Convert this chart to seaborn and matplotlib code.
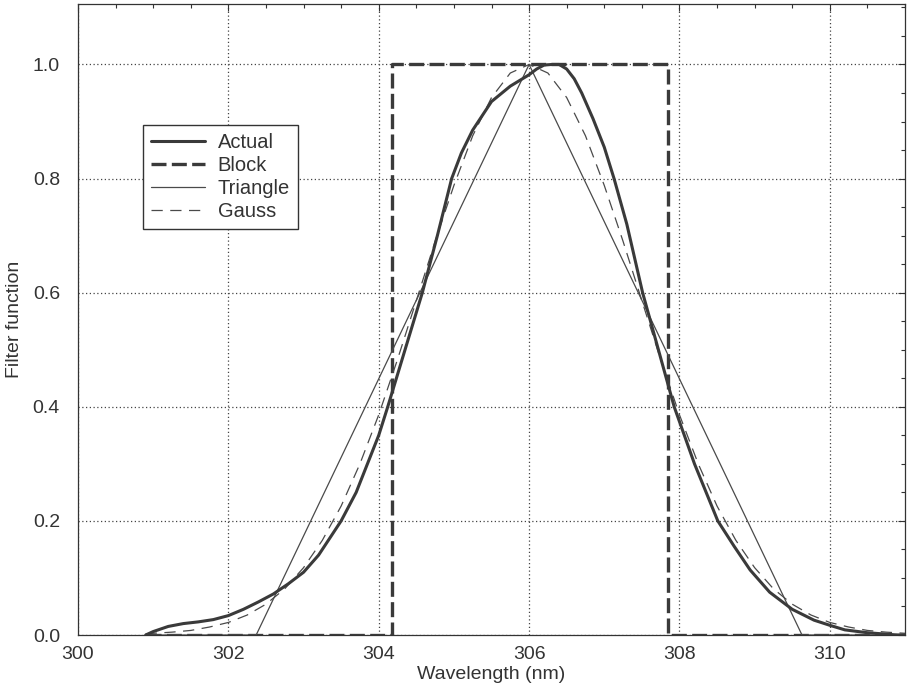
import matplotlib
matplotlib.use("Agg")
import matplotlib.pyplot as plt
from matplotlib.ticker import MultipleLocator, FixedLocator
import seaborn as sns

# ---- data ----
wl_actual = [300.9, 301.0, 301.2, 301.4, 301.6, 301.8, 302.0, 302.2, 302.4, 302.6,
             302.8, 303.0, 303.2, 303.4, 303.5, 303.7, 303.85, 304.0, 304.12, 304.35,
             304.58, 304.78, 304.97, 305.1, 305.25, 305.5, 305.75, 306.0, 306.1, 306.2,
             306.3, 306.4, 306.5, 306.6, 306.7, 306.85, 307.0, 307.13, 307.3, 307.51,
             307.72, 307.93, 308.2, 308.51, 308.73, 308.94, 309.2, 309.5, 309.79, 310.0,
             310.2, 310.5, 310.9, 311.0]
ff_actual = [0.0, 0.006, 0.015, 0.02, 0.023, 0.027, 0.034, 0.045, 0.058, 0.072,
             0.09, 0.11, 0.14, 0.18, 0.20, 0.25, 0.30, 0.35, 0.40, 0.50,
             0.60, 0.70, 0.80, 0.845, 0.885, 0.935, 0.962, 0.982, 0.992, 0.999,
             1.0, 1.0, 0.992, 0.975, 0.95, 0.905, 0.855, 0.80, 0.72, 0.60,
             0.50, 0.40, 0.30, 0.20, 0.155, 0.114, 0.075, 0.045, 0.026, 0.017,
             0.009, 0.004, 0.0, 0.0]

wl_block = [300.9, 304.18, 304.18, 307.85, 307.85, 311.0]
ff_block = [0.0, 0.0, 1.0, 1.0, 0.0, 0.0]

wl_triangle = [300.9, 302.37, 306.0, 309.63, 311.0]
ff_triangle = [0.0, 0.0, 1.0, 0.0, 0.0]

wl_gauss = [300.9, 301.0, 301.25, 301.5, 301.75, 302.0, 302.25, 302.5, 302.75, 303.0,
            303.25, 303.5, 303.75, 304.0, 304.25, 304.5, 304.75, 305.0, 305.25, 305.5,
            305.75, 306.0, 306.25, 306.5, 306.75, 307.0, 307.25, 307.5, 307.75, 308.0,
            308.25, 308.5, 308.75, 309.0, 309.25, 309.5, 309.75, 310.0, 310.25, 310.5,
            310.75, 311.0]
ff_gauss = [0.002, 0.003, 0.005, 0.008, 0.014, 0.022, 0.035, 0.054, 0.081, 0.118,
            0.166, 0.226, 0.300, 0.386, 0.483, 0.586, 0.690, 0.788, 0.875, 0.942,
            0.985, 1.0, 0.985, 0.942, 0.875, 0.788, 0.690, 0.586, 0.483, 0.386,
            0.300, 0.226, 0.166, 0.118, 0.081, 0.054, 0.035, 0.022, 0.014, 0.008,
            0.005, 0.003]

x_ticks = [300, 302, 304, 306, 308, 310]
y_ticks = [0.0, 0.2, 0.4, 0.6, 0.8, 1.0]
y_ticklabels = ["0.0", "0.2", "0.4", "0.6", "0.8", "1.0"]
legend_labels = ["Actual", "Block", "Triangle", "Gauss"]

# ---- style ----
sns.set_style("white")
plt.rcParams["font.family"] = ["Liberation Sans", "DejaVu Sans"]
FS = 14
TXT = "#333333"

fig = plt.figure(figsize=(9.07, 6.98), dpi=100)
ax = fig.add_axes([78 / 907, 1 - 635 / 698, 827 / 907, 631 / 698])

dark = "#3a3a3a"
thin = "#4a4a4a"

sns.lineplot(x=wl_block, y=ff_block, ax=ax, sort=False, estimator=None,
             color=dark, linewidth=2.4, linestyle=(0, (4.5, 1.6)), zorder=3)
sns.lineplot(x=wl_triangle, y=ff_triangle, ax=ax, sort=False, estimator=None,
             color=thin, linewidth=0.9, zorder=4)
sns.lineplot(x=wl_gauss, y=ff_gauss, ax=ax, sort=False, estimator=None,
             color=thin, linewidth=0.9, linestyle=(0, (9, 6)), zorder=4)
sns.lineplot(x=wl_actual, y=ff_actual, ax=ax, sort=False, estimator=None,
             color=dark, linewidth=2.2, zorder=5)

lines = ax.get_lines()
handles = [lines[3], lines[0], lines[1], lines[2]]

ax.set_xlim(300, 311)
ax.set_ylim(0, 1.106)
ax.xaxis.set_major_locator(FixedLocator(x_ticks))
ax.set_xticklabels([str(t) for t in x_ticks])
ax.yaxis.set_major_locator(FixedLocator(y_ticks))
ax.set_yticklabels(y_ticklabels)
ax.xaxis.set_minor_locator(MultipleLocator(0.5))
ax.yaxis.set_minor_locator(MultipleLocator(0.05))

ax.grid(True, which="major", linestyle=(0, (1, 2)), color="#444444", linewidth=0.9, zorder=1)
ax.set_axisbelow(True)

ax.tick_params(axis="both", which="both", direction="in", top=True, right=True,
               colors="#333333", labelcolor=TXT, labelsize=FS)
ax.tick_params(which="major", length=5, width=0.8)
ax.tick_params(which="minor", length=3, width=0.8)
ax.tick_params(axis="x", which="major", pad=8)
ax.tick_params(axis="y", which="major", pad=13)

for s in ax.spines.values():
    s.set_visible(True)
    s.set_color("#333333")
    s.set_linewidth(0.9)

ax.set_xlabel("Wavelength (nm)", fontsize=FS, color=TXT, labelpad=2)
ax.set_ylabel("Filter function", fontsize=FS, color=TXT, labelpad=7)

leg = ax.legend(handles, legend_labels, loc="upper left",
                bbox_to_anchor=(143 / 907, 1 - 125 / 698), bbox_transform=fig.transFigure,
                fontsize=14.5, frameon=True, fancybox=False, edgecolor="#333333",
                framealpha=1, handlelength=2.7, handletextpad=0.6,
                labelspacing=0.2, borderpad=0.4, borderaxespad=0)
leg.get_frame().set_linewidth(1.0)
for t in leg.get_texts():
    t.set_color(TXT)

fig.savefig("out.png", dpi=100)
